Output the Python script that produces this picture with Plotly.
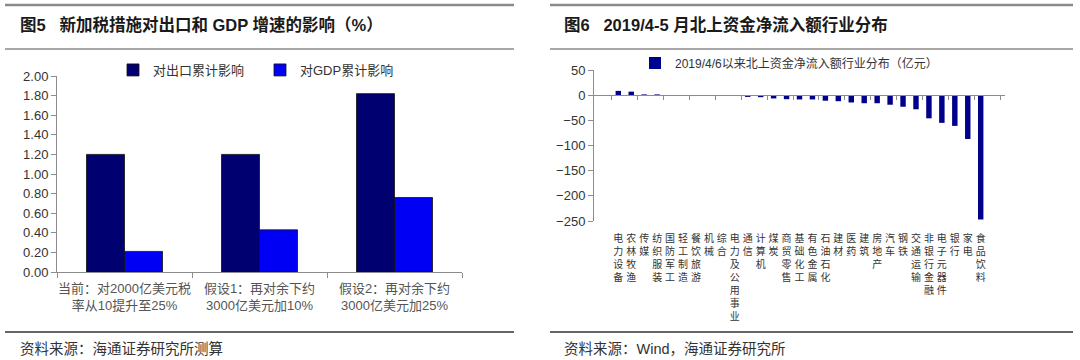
import plotly.graph_objects as go

# ---- Left chart data ----
scenarios = ["当前：对2000亿美元税<br>率从10提升至25%",
             "假设1：再对余下约<br>3000亿美元加10%",
             "假设2：再对余下约<br>3000亿美元加25%"]
export_impact = [1.20, 1.20, 1.82]
gdp_impact = [0.21, 0.43, 0.76]
left_y_ticks = [0, 0.2, 0.4, 0.6, 0.8, 1.0, 1.2, 1.4, 1.6, 1.8, 2.0]

# ---- Right chart data ----
industries = ["电力设备", "农林牧渔", "传媒", "纺织服装", "国防军工", "轻工制造", "餐饮旅游",
              "机械", "综合", "电力及公用事业", "通信", "计算机", "煤炭", "商贸零售",
              "基础化工", "有色金属", "石油石化", "建材", "医药", "建筑", "房地产", "汽车",
              "钢铁", "交通运输", "非银行金融", "电子元器件", "银行", "家电", "食品饮料"]
net_inflow = [8.5, 7, 1.5, 1.5, 0.3, 0.2, 0.1, 0.1, -0.3, -1.5, -3.5, -4, -6.5, -8,
              -8.5, -8.5, -11, -12, -14.5, -16, -16, -19, -23, -28, -46, -55, -61, -87, -247]
right_y_ticks = [50, 0, -50, -100, -150, -200, -250]

FONT = "Liberation Sans, Arial, Noto Sans CJK SC"
W, H = 1080, 360

def py(pix):
    return 1 - pix / H

def px(pix):
    return pix / W

fig = go.Figure()

fig.add_trace(go.Bar(x=scenarios, y=export_impact, name="对出口累计影响",
                     marker=dict(color="#000070", line=dict(color="#111111", width=0.8)),
                     xaxis="x", yaxis="y", legend="legend"))
fig.add_trace(go.Bar(x=scenarios, y=gdp_impact, name="对GDP累计影响",
                     marker=dict(color="#0000F5", line=dict(color="#111111", width=0.8)),
                     xaxis="x", yaxis="y", legend="legend"))

vertical_labels = ["<br>".join(list(s)) for s in industries]
fig.add_trace(go.Bar(x=industries, y=net_inflow, name="2019/4/6以来北上资金净流入额行业分布（亿元）",
                     marker=dict(color="#00008B", line=dict(width=0)), width=0.42,
                     xaxis="x2", yaxis="y2", legend="legend2"))
# helper trace so the zero-crossing category axis is drawn
fig.add_trace(go.Scatter(x=industries, y=net_inflow, mode="markers", marker=dict(opacity=0),
                         showlegend=False, hoverinfo="skip", xaxis="x3", yaxis="y2"))

ylo, yhi = -250, 50
y2_dom = [py(221), py(70)]
zero_pos = y2_dom[0] + (0 - ylo) / (yhi - ylo) * (y2_dom[1] - y2_dom[0])

axis_col = "#8c8c8c"
fig.update_layout(
    template="none",
    width=W, height=H, autosize=False,
    margin=dict(l=0, r=0, t=0, b=0, pad=0, autoexpand=False),
    paper_bgcolor="white", plot_bgcolor="white",
    font=dict(family=FONT, color="#222222"),
    barmode="group", bargap=0.437, bargroupgap=0,
    xaxis=dict(domain=[px(57), px(462)], anchor="y", showline=True, linecolor=axis_col,
               ticks="outside", tickson="boundaries", ticklen=5, tickcolor=axis_col,
               tickangle=0, automargin=False, ticklabelstandoff=4,
               tickfont=dict(size=13, color="#555555"), showgrid=False, fixedrange=True),
    yaxis=dict(domain=[py(272), py(76)], anchor="x", range=[0, 2], tickvals=left_y_ticks,
               tickformat=".2f", showline=True, linecolor=axis_col, ticks="outside",
               ticklen=5, tickcolor=axis_col, showgrid=False, zeroline=False, automargin=False,
               tickfont=dict(size=13, color="#333333")),
    xaxis2=dict(domain=[px(594), px(1005)], anchor="y2", showline=False, ticks="",
                tickvals=industries, ticktext=vertical_labels, tickangle=0, automargin=False,
                ticklabelstandoff=10,
                tickfont=dict(size=10, color="#333333"), showgrid=False),
    xaxis3=dict(domain=[px(594), px(1005)], overlaying="x2", matches="x2", anchor="free",
                position=zero_pos, showline=True, linecolor=axis_col, ticks="outside",
                tickson="boundaries", ticklen=4, tickcolor=axis_col, showticklabels=False,
                showgrid=False, automargin=False),
    yaxis2=dict(domain=y2_dom, anchor="x2", range=[ylo, yhi], tickvals=right_y_ticks,
                showline=True, linecolor=axis_col, ticks="outside", ticklen=5,
                tickcolor=axis_col, showgrid=False, zeroline=False, automargin=False,
                tickfont=dict(size=13, color="#333333")),
    legend=dict(orientation="h", x=px(113), y=py(70), xanchor="left", yanchor="middle",
                font=dict(size=13, color="#333333"), itemwidth=30,
                entrywidth=102, entrywidthmode="pixels", bgcolor="rgba(0,0,0,0)"),
    legend2=dict(orientation="h", x=px(635), y=py(63), xanchor="left", yanchor="middle",
                 font=dict(size=12, color="#333333"), itemwidth=30, bgcolor="rgba(0,0,0,0)"),
)

shapes = []
for x0, x1 in [(5, 514), (550, 1073)]:
    shapes.append(dict(type="line", xref="paper", yref="paper", x0=px(x0), x1=px(x1),
                       y0=py(5), y1=py(5), line=dict(color="#8a8a8a", width=2.5)))
    shapes.append(dict(type="line", xref="paper", yref="paper", x0=px(x0), x1=px(x1),
                       y0=py(49), y1=py(49), line=dict(color="#8a8a8a", width=1.5)))
    shapes.append(dict(type="line", xref="paper", yref="paper", x0=px(x0), x1=px(x1),
                       y0=py(332), y1=py(332), line=dict(color="#333333", width=1.5)))
fig.update_layout(shapes=shapes)

annotations = [
    dict(text="<b>图5   新加税措施对出口和 GDP 增速的影响（%）</b>", x=px(18), y=py(25),
         xanchor="left", yanchor="middle", font=dict(size=16.5, color="#1a1a1a")),
    dict(text="<b>图6   2019/4-5 月北上资金净流入额行业分布</b>", x=px(562), y=py(25),
         xanchor="left", yanchor="middle", font=dict(size=16.5, color="#1a1a1a")),
    dict(text="资料来源：海通证券研究所测算", x=px(18), y=py(349),
         xanchor="left", yanchor="middle", font=dict(size=14.5, color="#333333")),
    dict(text="资料来源：Wind，海通证券研究所", x=px(562), y=py(349),
         xanchor="left", yanchor="middle", font=dict(size=14.5, color="#333333")),
]
for a in annotations:
    a.update(xref="paper", yref="paper", showarrow=False)
fig.update_layout(annotations=annotations)

fig.write_html("out.html", config=dict(displayModeBar=False, staticPlot=True),
               post_script="document.body.style.margin='0';document.body.style.overflow='hidden';")
